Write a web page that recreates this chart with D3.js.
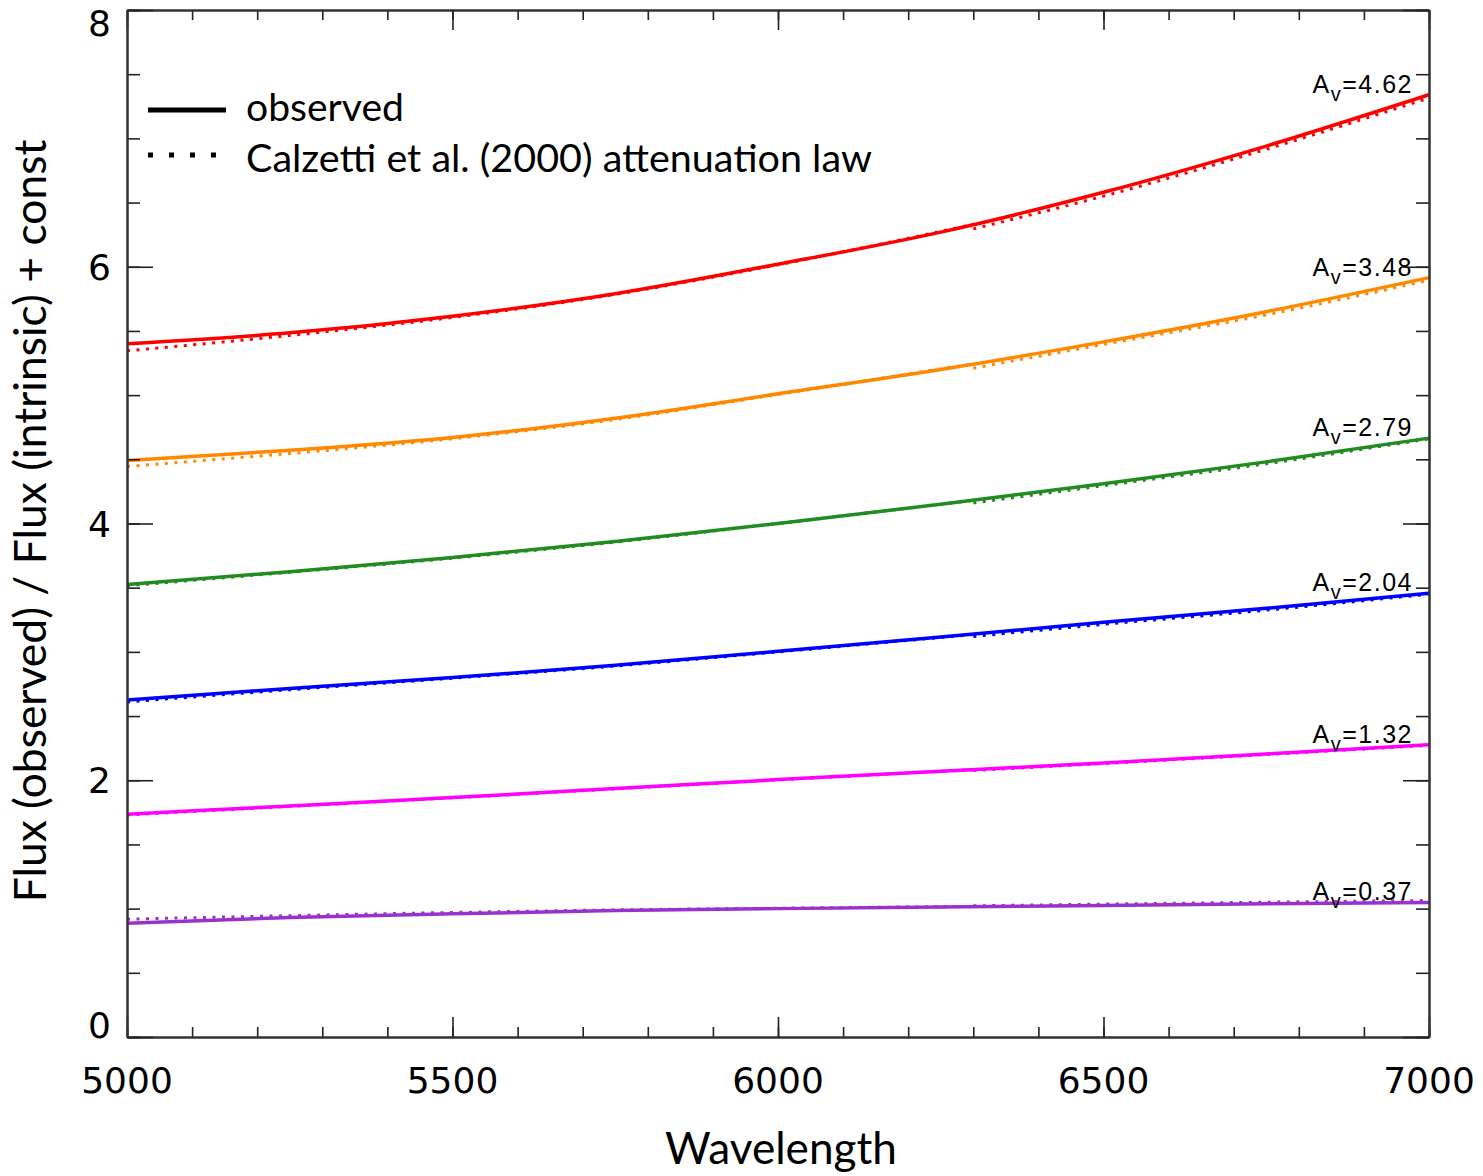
<!DOCTYPE html>
<html>
<head>
<meta charset="utf-8">
<script src="https://cdn.jsdelivr.net/npm/d3@7"></script>
<style>
  body { margin: 0; background: #fff; }
  svg { display: block; }
</style>
</head>
<body>
<div id="chart"></div>
<script>
// wavelength grid the curves were read on
var waves = [5000, 5250, 5500, 5750, 6000, 6250, 6500, 6750, 7000];
// Calzetti law is split at 6300 A (two formulas)
var wavesBlue = [5000, 5250, 5500, 5750, 6000, 6300];
var wavesRed = [6300, 6500, 6750, 7000];

var avLabels = ["4.62", "3.48", "2.79", "2.04", "1.32", "0.37"];
var colors = ["#ff0000", "#ff8800", "#228b22", "#0000ff", "#ff00ff", "#9932cc"];

// observed curves
var obsRed     = [5.40, 5.485, 5.615, 5.79, 6.02, 6.27, 6.58, 6.94, 7.34];
var obsOrange  = [4.49, 4.57, 4.67, 4.82, 5.01, 5.20, 5.415, 5.65, 5.915];
var obsGreen   = [3.525, 3.625, 3.735, 3.86, 4.0, 4.15, 4.31, 4.48, 4.665];
var obsBlue    = [2.626, 2.715, 2.80, 2.895, 3.005, 3.115, 3.23, 3.34, 3.456];
var obsMagenta = [1.735, 1.80, 1.865, 1.935, 2.005, 2.07, 2.135, 2.205, 2.276];
var obsPurple  = [0.887, 0.93, 0.96, 0.985, 1.0, 1.013, 1.025, 1.038, 1.048];

// Calzetti (2000) curves, blue part and red part
var calRedB     = [5.345, 5.465, 5.605, 5.785, 6.015, 6.33];
var calRedR     = [6.295, 6.55, 6.915, 7.315];
var calOrangeB  = [4.445, 4.545, 4.66, 4.81, 5.005, 5.245];
var calOrangeR  = [5.21, 5.395, 5.625, 5.895];
var calGreenB   = [3.515, 3.62, 3.73, 3.855, 4.0, 4.18];
var calGreenR   = [4.16, 4.295, 4.465, 4.66];
var calBlueB    = [2.61, 2.705, 2.795, 2.89, 3.0, 3.135];
var calBlueR    = [3.12, 3.215, 3.325, 3.45];
var calMagentaB = [1.73, 1.797, 1.863, 1.933, 2.003, 2.083];
var calMagentaR = [2.075, 2.13, 2.2, 2.272];
var calPurpleB  = [0.918, 0.945, 0.97, 0.99, 1.003, 1.017];
var calPurpleR  = [1.022, 1.035, 1.05, 1.063];

var observed = [obsRed, obsOrange, obsGreen, obsBlue, obsMagenta, obsPurple];
var calzBlue = [calRedB, calOrangeB, calGreenB, calBlueB, calMagentaB, calPurpleB];
var calzRed  = [calRedR, calOrangeR, calGreenR, calBlueR, calMagentaR, calPurpleR];

var xMajor = [5000, 5500, 6000, 6500, 7000];
var yMajor = [0, 2, 4, 6, 8];

var width = 1483, height = 1176;
var margin = {left: 127, right: 1429, top: 10, bottom: 1037};

var x = d3.scaleLinear().domain([5000, 7000]).range([margin.left, margin.right]);
var y = d3.scaleLinear().domain([0, 8]).range([margin.bottom, margin.top]);

var svg = d3.select("#chart").append("svg")
    .attr("width", width)
    .attr("height", height);

var textFont = "Lato, 'Open Sans', sans-serif";
var tickFont = "'DejaVu Sans', sans-serif";

// shrink / grow font so text spans the given width
function fitText(sel, target) {
  var w = sel.node().getComputedTextLength();
  var fs = parseFloat(sel.attr("font-size"));
  sel.attr("font-size", fs * target / w);
}

var line = d3.line()
    .x(function(d) { return x(d[0]); })
    .y(function(d) { return y(d[1]); })
    .curve(d3.curveMonotoneX);

var plot = svg.append("g");

// observed (solid)
observed.forEach(function(vals, i) {
  plot.append("path")
      .attr("d", line(d3.zip(waves, vals)))
      .attr("fill", "none")
      .attr("stroke", colors[i])
      .attr("stroke-width", 3.5);
});

// Calzetti (dotted), two pieces
[calzBlue, calzRed].forEach(function(set, k) {
  var ws = k === 0 ? wavesBlue : wavesRed;
  set.forEach(function(vals, i) {
    plot.append("path")
        .attr("d", line(d3.zip(ws, vals)))
        .attr("fill", "none")
        .attr("stroke", colors[i])
        .attr("stroke-width", 3)
        .attr("stroke-dasharray", "3,6.5");
  });
});

// A_v labels near the right end of each curve
observed.forEach(function(vals, i) {
  var t = svg.append("text")
      .attr("x", margin.right - 16)
      .attr("y", y(vals[vals.length - 1]) - 2)
      .attr("text-anchor", "end")
      .attr("font-family", "'Liberation Sans', sans-serif")
      .attr("font-size", 25)
      .attr("letter-spacing", 1.5)
      .attr("fill", "#000");
  t.append("tspan").text("A");
  t.append("tspan").attr("dy", 8).attr("font-size", 20).text("v");
  t.append("tspan").attr("dy", -8).text("=" + avLabels[i]);
});

// axes, ticks pointing inward
var axisStyle = function(g) {
  g.select(".domain").attr("stroke", "#333").attr("stroke-width", 2);
  g.selectAll(".tick line").attr("stroke", "#222").attr("stroke-width", 1.6);
  g.selectAll(".tick text").remove();
};
var xMinor = d3.range(5000, 7001, 100);
var yMinor = d3.range(0, 8.01, 0.5);

svg.append("g").attr("transform", "translate(0," + margin.bottom + ")")
    .call(d3.axisBottom(x).tickValues(xMinor).tickSize(-10).tickSizeOuter(0)).call(axisStyle);
svg.append("g").attr("transform", "translate(0," + margin.bottom + ")")
    .call(d3.axisBottom(x).tickValues(xMajor).tickSize(-20).tickSizeOuter(0)).call(axisStyle);
svg.append("g").attr("transform", "translate(0," + margin.top + ")")
    .call(d3.axisTop(x).tickValues(xMinor).tickSize(-10).tickSizeOuter(0)).call(axisStyle);
svg.append("g").attr("transform", "translate(0," + margin.top + ")")
    .call(d3.axisTop(x).tickValues(xMajor).tickSize(-20).tickSizeOuter(0)).call(axisStyle);
svg.append("g").attr("transform", "translate(" + margin.left + ",0)")
    .call(d3.axisLeft(y).tickValues(yMinor).tickSize(-13).tickSizeOuter(0)).call(axisStyle);
svg.append("g").attr("transform", "translate(" + margin.left + ",0)")
    .call(d3.axisLeft(y).tickValues(yMajor).tickSize(-26).tickSizeOuter(0)).call(axisStyle);
svg.append("g").attr("transform", "translate(" + margin.right + ",0)")
    .call(d3.axisRight(y).tickValues(yMinor).tickSize(-13).tickSizeOuter(0)).call(axisStyle);
svg.append("g").attr("transform", "translate(" + margin.right + ",0)")
    .call(d3.axisRight(y).tickValues(yMajor).tickSize(-26).tickSizeOuter(0)).call(axisStyle);

// tick labels
svg.selectAll(".xlab").data(xMajor).enter().append("text")
    .attr("x", function(d) { return x(d); })
    .attr("y", 1093)
    .attr("text-anchor", "middle")
    .attr("font-family", tickFont)
    .attr("font-size", 36)
    .text(function(d) { return d; });

svg.selectAll(".ylab").data(yMajor).enter().append("text")
    .attr("x", 111)
    .attr("y", function(d) {
      // end labels are pulled inside the axis range
      var shift = d === 8 ? 13 : (d === 0 ? -12 : 0);
      return y(d) + shift + 13;
    })
    .attr("text-anchor", "end")
    .attr("font-family", tickFont)
    .attr("font-size", 36)
    .text(function(d) { return d; });

// axis titles
var xt = svg.append("text")
    .attr("x", 781).attr("y", 1164)
    .attr("text-anchor", "middle")
    .attr("font-family", textFont)
    .attr("font-size", 40)
    .text("Wavelength");
fitText(xt, 232);

var yt = svg.append("text")
    .attr("transform", "translate(46,521) rotate(-90)")
    .attr("text-anchor", "middle")
    .attr("font-family", textFont)
    .attr("font-size", 40)
    .text("Flux (observed) / Flux (intrinsic) + const");
fitText(yt, 763);

// legend
var legend = svg.append("g");
legend.append("line")
    .attr("x1", 148).attr("x2", 226).attr("y1", 110).attr("y2", 110)
    .attr("stroke", "#000").attr("stroke-width", 5);
legend.append("line")
    .attr("x1", 148).attr("x2", 222).attr("y1", 155).attr("y2", 155)
    .attr("stroke", "#000").attr("stroke-width", 5)
    .attr("stroke-dasharray", "5,16");
var l1 = legend.append("text")
    .attr("x", 246).attr("y", 121)
    .attr("font-family", textFont).attr("font-size", 36)
    .text("observed");
fitText(l1, 158);
var l2 = legend.append("text")
    .attr("x", 246).attr("y", 172)
    .attr("font-family", textFont).attr("font-size", 36)
    .text("Calzetti et al. (2000) attenuation law");
fitText(l2, 626);
</script>
</body>
</html>
